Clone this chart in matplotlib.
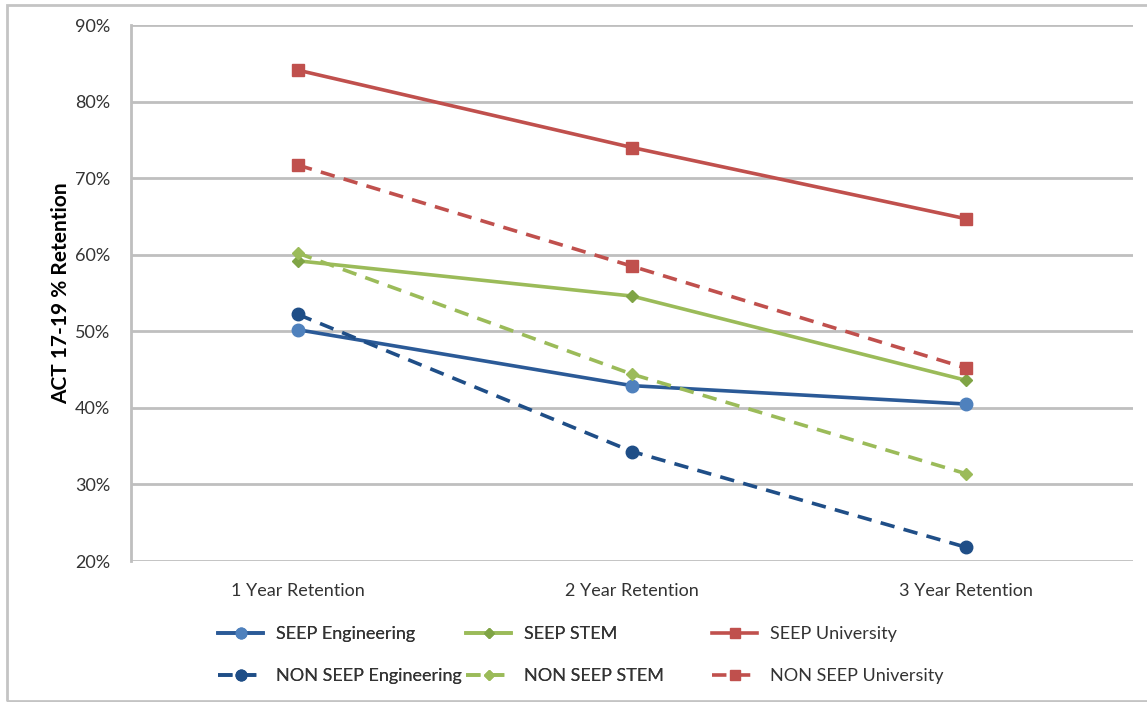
import matplotlib
matplotlib.use("Agg")
import matplotlib.pyplot as plt
from matplotlib.patches import Rectangle
from matplotlib.ticker import FuncFormatter

plt.rcParams['font.family'] = ['Lato', 'DejaVu Sans']

categories = ["1 Year Retention", "2 Year Retention", "3 Year Retention"]

seep_engineering = [50.2, 42.9, 40.5]
non_seep_engineering = [52.2, 34.3, 21.8]
seep_stem = [59.2, 54.6, 43.6]
non_seep_stem = [60.2, 44.4, 31.4]
seep_university = [84.1, 74.0, 64.7]
non_seep_university = [71.7, 58.5, 45.2]

y_ticks = [20, 30, 40, 50, 60, 70, 80, 90]

BLUE_LINE = "#2B5A97"
BLUE_LIGHT = "#4F81BD"
BLUE_DARK = "#1F4E87"
GREEN = "#9BBB59"
GREEN_DARK = "#7FA445"
RED = "#C0504D"

fig = plt.figure(figsize=(11.47, 7.02), dpi=100)
ax = fig.add_axes([131 / 1147, 1 - 561 / 702, (1133 - 131) / 1147, (561 - 25) / 702])

x = range(len(categories))
lw = 2.6

series = [
    ("SEEP Engineering", seep_engineering, BLUE_LINE, "-", "o", BLUE_LIGHT, 9),
    ("NON SEEP Engineering", non_seep_engineering, BLUE_DARK, (0, (4, 2.6)), "o", BLUE_DARK, 9),
    ("SEEP STEM", seep_stem, GREEN, "-", "D", GREEN_DARK, 6.5),
    ("NON SEEP STEM", non_seep_stem, GREEN, (0, (4, 2.6)), "D", GREEN, 6.5),
    ("SEEP University", seep_university, RED, "-", "s", RED, 8.5),
    ("NON SEEP University", non_seep_university, RED, (0, (4, 2.6)), "s", RED, 8.5),
]

handles = []
for name, vals, color, ls, marker, mcolor, ms in series:
    h, = ax.plot(x, vals, color=color, linestyle=ls, linewidth=lw, marker=marker,
                 markersize=ms, markerfacecolor=mcolor, markeredgecolor=mcolor,
                 label=name, zorder=3)
    handles.append(h)

ax.set_xlim(-0.5, 2.5)
ax.set_ylim(20, 90)
ax.set_yticks(y_ticks)
ax.yaxis.set_major_formatter(FuncFormatter(lambda v, p: f"{v:.0f}%"))
ax.set_xticks(list(x))
ax.set_xticklabels(categories)

ax.grid(axis='y', color='#BFBFBF', linewidth=2, zorder=0)
ax.set_axisbelow(True)
for side in ['top', 'right', 'bottom']:
    ax.spines[side].set_visible(False)
ax.spines['left'].set_color('#BFBFBF')
ax.spines['left'].set_linewidth(2)

ax.tick_params(axis='both', length=0, labelsize=13, labelcolor='#333333')
ax.tick_params(axis='y', pad=15)
ax.tick_params(axis='x', pad=16)

ax.set_ylabel("ACT 17-19 % Retention", fontsize=15, fontweight='bold', labelpad=3)

# Legend: three columns of two entries, evenly spaced
col_x = [218, 466, 712]
for i, cx in enumerate(col_x):
    leg = fig.legend(handles=handles[2 * i:2 * i + 2], loc='upper left',
                     bbox_to_anchor=(cx / 1147, 1 - 626 / 702), frameon=False,
                     fontsize=13, handlelength=2.5, handletextpad=0.7,
                     labelspacing=1.45, borderpad=0, borderaxespad=0,
                     markerscale=0.85)
    for t in leg.get_texts():
        t.set_color('#333333')
    if i < 2:
        fig.add_artist(leg)

# Light frame around the chart
fig.add_artist(Rectangle((7 / 1147, 1 - 701 / 702), 1.05, 696 / 702,
                         transform=fig.transFigure, fill=False,
                         edgecolor='#C4C4C4', linewidth=2))

fig.savefig("out.png", dpi=100)
